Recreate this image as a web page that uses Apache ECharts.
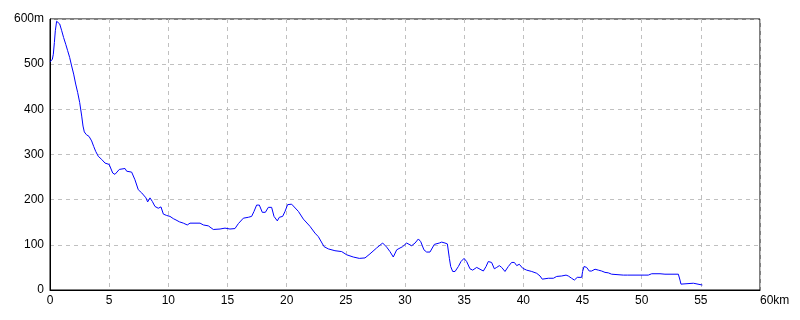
<!DOCTYPE html>
<html>
<head>
<meta charset="utf-8">
<script src="https://cdn.jsdelivr.net/npm/echarts@6/dist/echarts.min.js"></script>
<style>html,body{margin:0;padding:0;background:#fff}#c{width:800px;height:320px}</style>
</head>
<body>
<div id="c"></div>
<script>
const distanceKm = [0,0.2,0.28,0.37,0.45,0.56,0.7,0.82,0.99,1.15,
1.33,1.49,1.66,1.83,2.0,2.17,2.34,2.51,2.68,2.79,
2.9,3.07,3.3,3.52,3.69,3.86,4.08,4.37,4.65,5.0,
5.3,5.49,5.86,6.34,6.48,6.9,7.18,7.46,7.75,8.11,
8.25,8.45,8.65,8.87,9.15,9.38,9.58,9.86,10.14,10.42,
10.65,10.76,10.93,11.27,11.6,11.83,12.68,12.96,13.38,13.8,
14.37,14.79,15.21,15.63,15.92,16.34,16.76,17.04,17.24,17.46,
17.69,17.94,18.2,18.45,18.73,18.93,19.21,19.38,19.66,19.86,
20.08,20.42,20.56,20.99,21.41,21.97,22.39,22.68,23.16,23.52,
24.08,24.65,25.07,25.63,26.14,26.62,27.04,27.6,28.11,28.45,
28.73,29.01,29.3,29.58,29.8,30.14,30.56,30.85,31.13,31.33,
31.6,31.83,32.11,32.48,32.9,33.1,33.38,33.58,33.75,33.86,
34.03,34.23,34.51,34.73,34.99,35.21,35.49,35.72,36.06,36.34,
36.62,36.85,37.04,37.32,37.55,37.75,37.97,38.17,38.45,38.73,
39.01,39.24,39.44,39.66,39.95,40.28,40.71,41.13,41.41,41.6,
41.75,42.11,42.54,42.82,43.24,43.61,43.8,44.08,44.31,44.56,
44.93,45.01,45.13,45.35,45.57,45.77,46.06,46.34,46.62,46.9,
47.18,47.46,47.6,48.45,48.59,48.79,50.28,50.42,50.56,50.85,
51.55,51.69,51.97,53.1,53.18,53.24,53.32,53.47,54.37,54.51,
55.13];
const elevationM = [505,511,522,548,574,595,595,589,574,559,
544,530,515,496,478,456,437,415,385,363,
350,344,340,330,318,307,296,289,281,278,
259,256,267,269,263,261,244,222,215,204,
195,204,196,185,181,184,168,165,163,158,
155,157,151,148,144,148,148,144,142,134,
135,137,135,136,147,159,161,163,174,188,
188,172,172,183,183,163,153,161,163,174,
189,190,189,174,157,141,126,118,96,91,
87,85,78,73,70,71,80,93,104,95,
85,73,89,93,96,104,98,104,113,107,
89,84,84,101,104,106,104,102,70,52,
41,41,52,63,70,63,47,44,50,46,
42,52,63,61,47,50,54,50,41,52,
61,61,54,57,48,44,41,37,31,24,
28,26,26,30,31,33,31,26,22,28,
28,41,52,50,42,42,46,44,42,39,
38,35,33,33,36,33,33,36,33,36,
36,35,35,35,33,22,13,15,15,13,
11];
const xTicks = {min: 0, max: 60, interval: 5, unit: 'km'};
const yTicks = {min: 0, max: 600, interval: 100, unit: 'm'};

const chart = echarts.init(document.getElementById('c'), null, {renderer: 'canvas'});
const font = {fontFamily: 'Liberation Sans, sans-serif', fontSize: 12, color: '#000'};
chart.setOption({
  animation: false,
  grid: {left: 50, right: 40, top: 19, bottom: 30, show: true, borderColor: '#000', borderWidth: 1},
  xAxis: {
    type: 'value', min: xTicks.min, max: xTicks.max, interval: xTicks.interval,
    axisLine: {lineStyle: {color: '#000', width: 1}},
    axisTick: {show: false},
    axisLabel: Object.assign({margin: 5, alignMaxLabel: 'left',
      formatter: v => v === xTicks.max ? v + xTicks.unit : String(v)}, font),
    splitLine: {show: true, lineStyle: {color: '#c0c0c0', type: [4, 4], width: 1}}
  },
  yAxis: {
    type: 'value', min: yTicks.min, max: yTicks.max, interval: yTicks.interval,
    axisLine: {show: true, lineStyle: {color: '#000', width: 1}},
    axisTick: {show: false},
    axisLabel: Object.assign({margin: 6,
      formatter: v => v === yTicks.max ? v + yTicks.unit : String(v)}, font),
    splitLine: {show: true, lineStyle: {color: '#c0c0c0', type: [4, 4], width: 1}}
  },
  series: [{
    type: 'line',
    data: distanceKm.map((d, i) => [d, elevationM[i]]),
    showSymbol: false,
    lineStyle: {color: '#0000ff', width: 1},
    itemStyle: {color: '#0000ff'}
  }]
});
</script>
</body>
</html>
